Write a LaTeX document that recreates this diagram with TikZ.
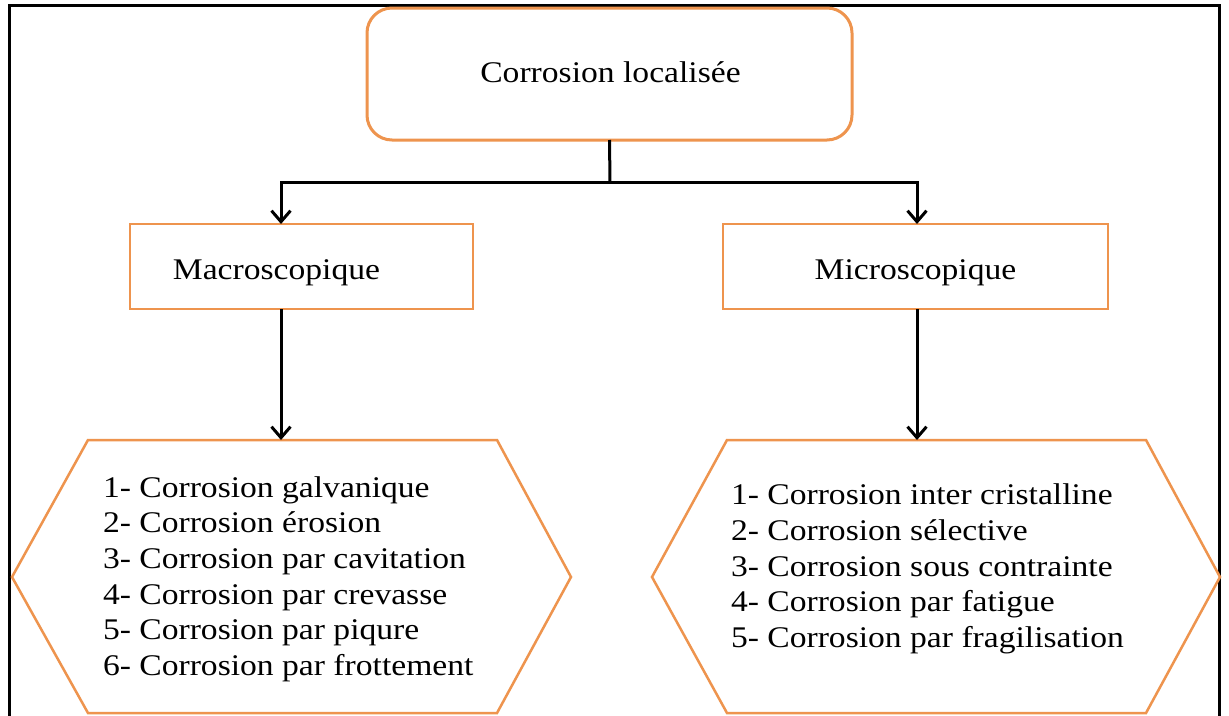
\documentclass[tikz,border=0pt]{standalone}
\usepackage{fontspec}
\setmainfont[FakeStretch=1.12]{Liberation Serif}
\usetikzlibrary{arrows.meta}
\definecolor{obord}{RGB}{238,148,78}
\begin{document}
\begin{tikzpicture}[x=1pt,y=-1pt,
  every node/.style={font=\fontsize{30}{35.6}\selectfont, inner sep=0pt, outer sep=0pt},
  frame/.style={line width=3pt, black},
  conn/.style={line width=3pt, black},
  arr/.style={conn, -{Straight Barb[length=11pt,width=19pt]}},
  topbox/.style={draw=obord, line width=3pt, rounded corners=25pt, fill=white},
  levelbox/.style={draw=obord, line width=2.5pt, fill=white, minimum height=85pt},
  hexa/.style={draw=obord, line width=2.5pt, line join=miter, fill=white},
  label/.style={anchor=base},
  listtext/.style={anchor=west, align=left}
]
\useasboundingbox (0,0) rectangle (1229,715);
\fill[white] (0,0) rectangle (1229,715);

% outer frame
\draw[frame] (9,730) -- (9,5) -- (1219,5) -- (1219,730);

% top box
\node[topbox, minimum width=485pt, minimum height=132pt] (top) at (609.5,74) {};
\node[label] (toptxt) at (610.5,82) {Corrosion localisée};

% level boxes
\node[levelbox, minimum width=343pt] (macro) at (301.5,266.5) {};
\node[label] (macrotxt) at (276.5,279) {Macroscopique};
\node[levelbox, minimum width=385pt] (micro) at (915.5,266.5) {};
\node[label] (microtxt) at (915.5,279) {Microscopique};

% hexagons
\coordinate (hL1) at (88,440);  \coordinate (hL2) at (497,440);
\coordinate (hL3) at (571,577); \coordinate (hL4) at (497,713);
\coordinate (hL5) at (88,713);  \coordinate (hL6) at (12,577);
\draw[hexa] (hL1) -- (hL2) -- (hL3) -- (hL4) -- (hL5) -- (hL6) -- cycle;

\coordinate (hR1) at (727,440);  \coordinate (hR2) at (1146,440);
\coordinate (hR3) at (1220,577); \coordinate (hR4) at (1146,713);
\coordinate (hR5) at (727,713);  \coordinate (hR6) at (652,577);
\draw[hexa] (hR1) -- (hR2) -- (hR3) -- (hR4) -- (hR5) -- (hR6) -- cycle;

\node[listtext] (listL) at (103,579) {1- Corrosion galvanique\\
2- Corrosion érosion\\
3- Corrosion par cavitation\\
4- Corrosion par crevasse\\
5- Corrosion par piqure\\
6- Corrosion par frottement};

\node[listtext] (listR) at (731,569) {1- Corrosion inter cristalline\\
2- Corrosion sélective\\
3- Corrosion sous contrainte\\
4- Corrosion par fatigue\\
5- Corrosion par fragilisation};

% connectors
\coordinate (j) at (610,182);
\coordinate (ma) at (281,224);
\coordinate (mi) at (917,224);
\draw[conn] (top.south) -- (j);
\draw[arr] (j) -| (ma);
\draw[arr] (j) -| (mi);
\draw[arr] (ma |- macro.south) -- (ma |- hL1);
\draw[arr] (mi |- micro.south) -- (mi |- hR1);
\end{tikzpicture}
\end{document}
